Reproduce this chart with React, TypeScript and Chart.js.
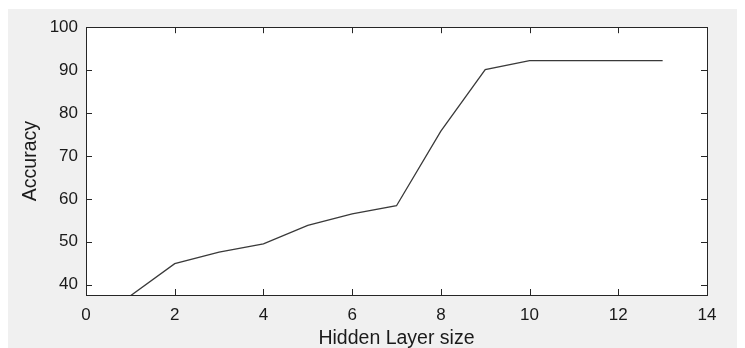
import React, { useEffect, useRef } from "react";
import { Chart, registerables } from "chart.js";

Chart.register(...registerables);

const HIDDEN_SIZES = [1, 2, 3, 4, 5, 6, 7, 8, 9, 10, 11, 12, 13];
const ACCURACY = [37.4, 44.9, 47.6, 49.5, 53.8, 56.5, 58.4, 75.8, 90.1, 92.2, 92.2, 92.2, 92.2];
const X_TICKS = [0, 2, 4, 6, 8, 10, 12, 14];
const Y_TICKS = [40, 50, 60, 70, 80, 90, 100];
const X_RANGE = [0, 14];
const Y_RANGE = [37.6, 100];

const AXIS_COLOR = "#262626";
const FONT = "'Liberation Sans', Arial, Helvetica, sans-serif";

const boxPlugin = {
  id: "matlabBox",
  beforeDraw(chart: any) {
    const { ctx, chartArea } = chart;
    ctx.save();
    ctx.fillStyle = "#ffffff";
    ctx.fillRect(chartArea.left, chartArea.top, chartArea.right - chartArea.left, chartArea.bottom - chartArea.top);
    ctx.restore();
  },
  afterDraw(chart: any) {
    const { ctx, chartArea } = chart;
    const { left, right, top, bottom } = chartArea;
    const tl = 6;
    ctx.save();
    ctx.strokeStyle = AXIS_COLOR;
    ctx.lineWidth = 1;
    ctx.beginPath();
    const xs = chart.scales.x;
    xs.ticks.forEach((t: any) => {
      const px = Math.round(xs.getPixelForValue(t.value)) + 0.5;
      ctx.moveTo(px, bottom);
      ctx.lineTo(px, bottom - tl);
      ctx.moveTo(px, top);
      ctx.lineTo(px, top + tl);
    });
    const ys = chart.scales.y;
    ys.ticks.forEach((t: any) => {
      const py = Math.round(ys.getPixelForValue(t.value)) + 0.5;
      ctx.moveTo(left, py);
      ctx.lineTo(left + tl, py);
      ctx.moveTo(right, py);
      ctx.lineTo(right - tl, py);
    });
    ctx.stroke();
    ctx.strokeRect(Math.round(left) + 0.5, Math.round(top) + 0.5, Math.round(right - left), Math.round(bottom - top));
    ctx.restore();
  },
};

export default function App() {
  const ref = useRef<HTMLCanvasElement | null>(null);

  useEffect(() => {
    if (!ref.current) return;
    const chart = new Chart(ref.current, {
      type: "line",
      data: {
        datasets: [
          {
            data: HIDDEN_SIZES.map((x, i) => ({ x, y: ACCURACY[i] })),
            borderColor: "#3a3a3a",
            borderWidth: 1.3,
            pointRadius: 0,
            fill: false,
            tension: 0,
          },
        ],
      },
      options: {
        animation: false,
        responsive: false,
        devicePixelRatio: 1,
        layout: { padding: { top: 17, right: 38, left: 0, bottom: 0 } },
        plugins: { legend: { display: false }, tooltip: { enabled: false } },
        scales: {
          x: {
            type: "linear",
            min: X_RANGE[0],
            max: X_RANGE[1],
            grid: { display: false, drawTicks: false, tickLength: 0 },
            border: { display: false },
            afterBuildTicks: (s: any) => {
              s.ticks = X_TICKS.map((v) => ({ value: v }));
            },
            afterFit: (s: any) => {
              s.height = 53;
            },
            ticks: {
              padding: 10,
              color: "#1a1a1a",
              font: { family: FONT, size: 17 },
              maxRotation: 0,
              callback: (v: any) => String(v),
            },
            title: {
              display: true,
              text: "Hidden Layer size",
              color: "#1a1a1a",
              font: { family: FONT, size: 19.5, lineHeight: 1 },
              padding: { top: 0, bottom: 0 },
            },
          },
          y: {
            type: "linear",
            min: Y_RANGE[0],
            max: Y_RANGE[1],
            grid: { display: false, drawTicks: false, tickLength: 0 },
            border: { display: false },
            afterBuildTicks: (s: any) => {
              s.ticks = Y_TICKS.map((v) => ({ value: v }));
            },
            afterFit: (s: any) => {
              s.width = 79;
            },
            ticks: {
              padding: 8,
              color: "#1a1a1a",
              font: { family: FONT, size: 17 },
              callback: (v: any) => String(v),
            },
            title: {
              display: true,
              text: "Accuracy",
              color: "#1a1a1a",
              font: { family: FONT, size: 19.5, lineHeight: 1 },
              padding: { top: 14, bottom: 0 },
            },
          },
        },
      },
      plugins: [boxPlugin],
    });
    return () => chart.destroy();
  }, []);

  return (
    <div style={{ margin: "1px 0 0 -1px", width: 738, height: 339 }}>
      <canvas ref={ref} width={738} height={339} style={{ display: "block", background: "#f0f0f0" }} />
    </div>
  );
}
